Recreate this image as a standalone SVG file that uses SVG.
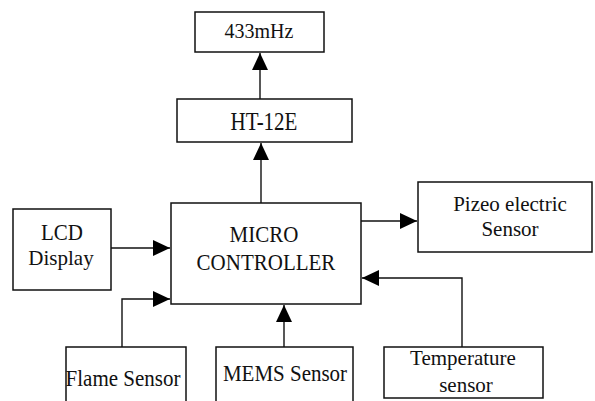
<svg xmlns="http://www.w3.org/2000/svg" width="595" height="401" viewBox="0 0 595 401">
<style>
.box{fill:#fff;stroke:#111;stroke-width:1.5}
.t{font-family:'Liberation Serif','Times New Roman',Tinos,'DejaVu Serif',serif;font-size:21px;fill:#111;text-anchor:middle}
.c{fill:none;stroke:#111;stroke-width:1.4}
</style>
<defs>
<marker id="ah" markerUnits="userSpaceOnUse" markerWidth="17" markerHeight="17" refX="17" refY="8" orient="auto">
<path d="M0,0 L17,8 L0,16 Z" fill="#000"/>
</marker>
</defs>
<rect width="595" height="401" fill="#fff"/>
<g id="connectors">
<path class="c" d="M260,99 L260,53" marker-end="url(#ah)"/>
<path class="c" d="M261,203 L261,143" marker-end="url(#ah)"/>
<path class="c" d="M111,248 L170,248" marker-end="url(#ah)"/>
<path class="c" d="M361,221 L417,221" marker-end="url(#ah)"/>
<path class="c" d="M122,347 L122,299 L170,299" marker-end="url(#ah)"/>
<path class="c" d="M284,347 L284,305" marker-end="url(#ah)"/>
<path class="c" d="M462,347 L462,278 L362,278" marker-end="url(#ah)"/>
</g>
<g id="n433">
<rect class="box" x="195" y="12" width="129" height="40"/>
<text class="t" x="259" y="38" font-family="Liberation Serif, serif" style="font-size:20px">433mHz</text>
</g>
<g id="ht12e">
<rect class="box" x="177" y="99" width="175" height="43"/>
<text class="t" transform="translate(264,130) scale(1,1.2)">HT-12E</text>
</g>
<g id="lcd">
<rect class="box" x="13" y="209" width="98" height="81"/>
<text class="t" transform="translate(62,240) scale(1,1.05)">LCD</text>
<text class="t" transform="translate(61,265)">Display</text>
</g>
<g id="micro">
<rect class="box" x="171" y="203" width="190" height="101"/>
<text class="t" transform="translate(264,242) scale(1,1.12)">MICRO</text>
<text class="t" transform="translate(266,270) scale(1,1.12)">CONTROLLER</text>
</g>
<g id="pizeo">
<rect class="box" x="418" y="182" width="174" height="70"/>
<text class="t" x="510" y="211">Pizeo electric</text>
<text class="t" x="510" y="236">Sensor</text>
</g>
<g id="flame">
<rect class="box" x="66" y="347" width="120" height="60"/>
<text class="t" transform="translate(123,386) scale(1,1.05)">Flame Sensor</text>
</g>
<g id="mems">
<rect class="box" x="216" y="347" width="137" height="60"/>
<text class="t" transform="translate(285,381) scale(1,1.05)">MEMS Sensor</text>
</g>
<g id="temp">
<rect class="box" x="384" y="347" width="159" height="51"/>
<text class="t" x="463" y="365">Temperature</text>
<text class="t" x="466" y="392">sensor</text>
</g>
</svg>
